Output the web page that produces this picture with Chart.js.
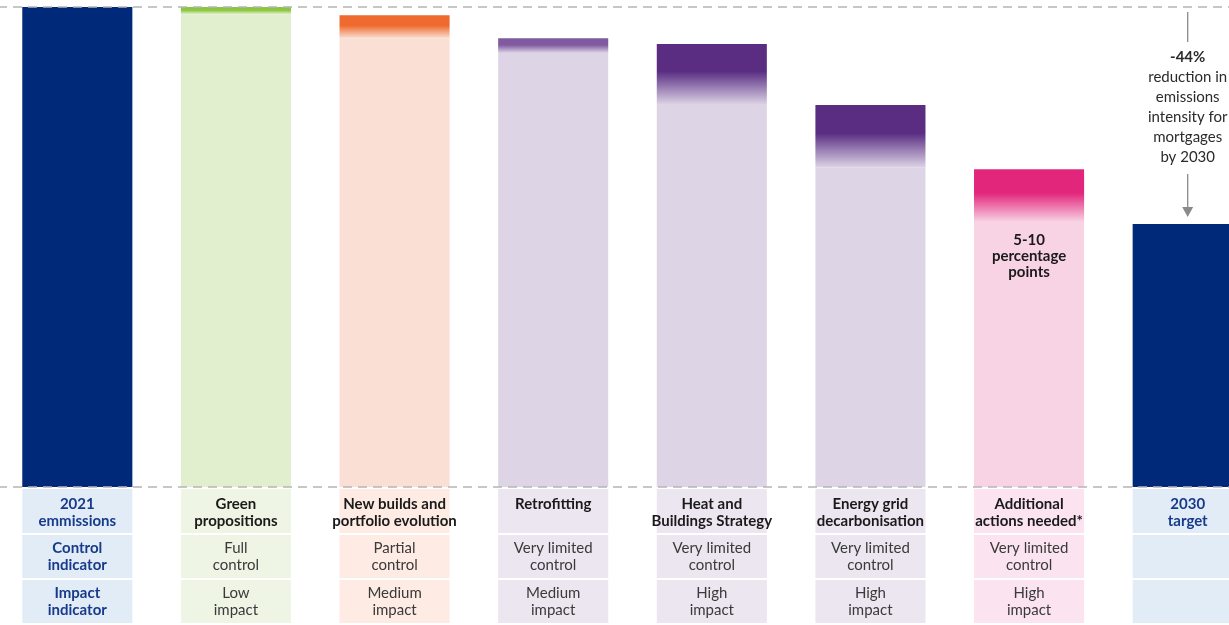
<!DOCTYPE html>
<html>
<head>
<meta charset="utf-8">
<script src="https://cdn.jsdelivr.net/npm/chart.js@4.4.1/dist/chart.umd.min.js"></script>
<style>
  html, body { margin: 0; padding: 0; background: #fff; overflow: hidden; }
  #wrap { position: absolute; left: -2px; top: 0; width: 1269px; height: 625px; }
</style>
</head>
<body>
<div id="wrap"><canvas id="waterfall"></canvas></div>
<script>
// Waterfall: emissions intensity for mortgages, 2021 -> 2030
const categories = [
    ['2021', 'emmissions'],
    ['Green', 'propositions'],
    ['New builds and', 'portfolio evolution'],
    ['Retrofitting'],
    ['Heat and', 'Buildings Strategy'],
    ['Energy grid', 'decarbonisation'],
    ['Additional', 'actions needed*'],
    ['2030', 'target']
];
// top of each bar (index, 2021 = 100) and the reduction shown as the dark part
const barTops   = [100, 100, 98.3, 93.5, 92.3, 79.6, 66.2, 54.8];
const reductions = [0, 1.5, 4.8, 3.1, 12.7, 13.1, 11.0, 0];

const controlRow = [['Control', 'indicator'], ['Full', 'control'], ['Partial', 'control'], ['Very limited', 'control'],
    ['Very limited', 'control'], ['Very limited', 'control'], ['Very limited', 'control'], []];
const impactRow = [['Impact', 'indicator'], ['Low', 'impact'], ['Medium', 'impact'], ['Medium', 'impact'],
    ['High', 'impact'], ['High', 'impact'], ['High', 'impact'], []];

const insideNote = ['5-10', 'percentage', 'points'];
const targetNote = ['-44%', 'reduction in', 'emissions', 'intensity for', 'mortgages', 'by 2030'];

// colours
const NAVY = '#00297a';
const NAVY_TEXT = '#173a8a';
const darkColors  = [NAVY, '#8cc63f', '#ee6a2e', '#7f5aa0', '#5a2d83', '#5a2d83', '#e2267c', NAVY];
const lightColors = [NAVY, '#e1efcf', '#fadfd4', '#ddd5e6', '#ddd5e6', '#ddd5e6', '#f8d3e4', NAVY];
const cellColors  = ['#e2ecf7', '#eef5e5', '#fdebe4', '#ebe6f0', '#ebe6f0', '#ebe6f0', '#fbe4ef', '#e2ecf7'];

const FONT = 'Lato, sans-serif';

const bases = barTops.map(function(t, i) { return t - reductions[i]; });

function reductionFill(context) {
    const chart = context.chart;
    const i = context.dataIndex;
    if (!chart.chartArea) return darkColors[i];
    const y = chart.scales.y;
    const top = y.getPixelForValue(barTops[i]);
    const bot = y.getPixelForValue(bases[i]);
    if (bot - top < 1) return darkColors[i];
    const g = chart.ctx.createLinearGradient(0, top, 0, bot);
    g.addColorStop(0, darkColors[i]);
    g.addColorStop(0.45, darkColors[i]);
    g.addColorStop(1, lightColors[i]);
    return g;
}

function drawLines(ctx, lines, x, yCenter, step) {
    const start = yCenter - (lines.length - 1) * step / 2;
    lines.forEach(function(l, k) { ctx.fillText(l, x, start + k * step); });
}

const tablePlugin = {
    id: 'tablePlugin',
    beforeDraw(chart) {
        const ctx = chart.ctx;
        const bottom = chart.chartArea.bottom;
        const meta = chart.getDatasetMeta(0);
        ctx.save();
        meta.data.forEach(function(bar, i) {
            const left = bar.x - bar.width / 2;
            ctx.fillStyle = cellColors[i];
            ctx.fillRect(left, bottom + 2, bar.width, 44);
            ctx.fillRect(left, bottom + 48, bar.width, 43);
            ctx.fillRect(left, bottom + 93, bar.width, 43);
        });
        ctx.restore();
    },
    afterDatasetsDraw(chart) {
        const ctx = chart.ctx;
        const area = chart.chartArea;
        const y = chart.scales.y;
        const meta = chart.getDatasetMeta(0);

        // dashed reference lines
        ctx.save();
        ctx.strokeStyle = '#b5b5b5';
        ctx.lineWidth = 1.5;
        ctx.setLineDash([9, 6]);
        [y.getPixelForValue(100), y.getPixelForValue(0)].forEach(function(py) {
            ctx.beginPath();
            ctx.moveTo(area.left, py);
            ctx.lineTo(area.right, py);
            ctx.stroke();
        });
        ctx.restore();

        // table rows
        ctx.save();
        ctx.textAlign = 'center';
        ctx.textBaseline = 'middle';
        meta.data.forEach(function(bar, i) {
            const first = i === 0;
            ctx.font = (first ? 'bold ' : '') + '15px ' + FONT;
            ctx.fillStyle = first ? NAVY_TEXT : '#3a3a3a';
            drawLines(ctx, controlRow[i], bar.x, area.bottom + 69.5, 17);
            drawLines(ctx, impactRow[i], bar.x, area.bottom + 114.5, 17);
        });

        // note inside the "additional actions" bar
        const addBar = meta.data[6];
        ctx.font = 'bold 15px ' + FONT;
        ctx.fillStyle = '#1a1a1a';
        drawLines(ctx, insideNote, addBar.x, y.getPixelForValue(bases[6]) + 34, 16);

        // -44% annotation above the 2030 bar
        const tBar = meta.data[7];
        const tx = tBar.x;
        ctx.strokeStyle = '#8a8a8a';
        ctx.fillStyle = '#8a8a8a';
        ctx.lineWidth = 1.3;
        ctx.beginPath();
        ctx.moveTo(tx, area.top + 5);
        ctx.lineTo(tx, area.top + 35);
        ctx.stroke();
        const arrowTip = y.getPixelForValue(barTops[7]) - 7;
        ctx.beginPath();
        ctx.moveTo(tx, arrowTip - 43);
        ctx.lineTo(tx, arrowTip - 8);
        ctx.stroke();
        ctx.beginPath();
        ctx.moveTo(tx - 5.5, arrowTip - 10);
        ctx.lineTo(tx + 5.5, arrowTip - 10);
        ctx.lineTo(tx, arrowTip);
        ctx.closePath();
        ctx.fill();

        targetNote.forEach(function(line, k) {
            ctx.font = (k === 0 ? 'bold ' : '') + '15px ' + FONT;
            ctx.fillStyle = '#2b2b2b';
            ctx.fillText(line, tx, area.top + 50 + k * 20);
        });
        ctx.restore();
    }
};

document.addEventListener('DOMContentLoaded', function() {
    const ctx = document.getElementById('waterfall').getContext('2d');

    new Chart(ctx, {
        type: 'bar',
        data: {
            labels: categories,
            datasets: [{
                label: 'Remaining',
                data: bases,
                backgroundColor: lightColors
            }, {
                label: 'Reduction',
                data: reductions,
                backgroundColor: reductionFill
            }]
        },
        options: {
            responsive: true,
            maintainAspectRatio: false,
            animation: false,
            layout: { padding: { top: 7, left: 0, right: 0, bottom: 0 } },
            datasets: {
                bar: {
                    categoryPercentage: 1,
                    barPercentage: 0.694,
                    borderWidth: 0
                }
            },
            plugins: {
                legend: { display: false },
                tooltip: { enabled: false }
            },
            scales: {
                x: {
                    stacked: true,
                    grid: { display: false, drawTicks: false },
                    border: { display: false },
                    afterFit: function(axis) { axis.height = 138; },
                    ticks: {
                        autoSkip: false,
                        maxRotation: 0,
                        padding: 9,
                        font: { family: FONT, size: 15, weight: 'bold', lineHeight: 1.13 },
                        color: function(c) {
                            return (c.index === 0 || c.index === 7) ? NAVY_TEXT : '#1a1a1a';
                        }
                    }
                },
                y: {
                    stacked: true,
                    display: false,
                    min: 0,
                    max: 100
                }
            }
        },
        plugins: [tablePlugin]
    });
});
</script>
</body>
</html>
